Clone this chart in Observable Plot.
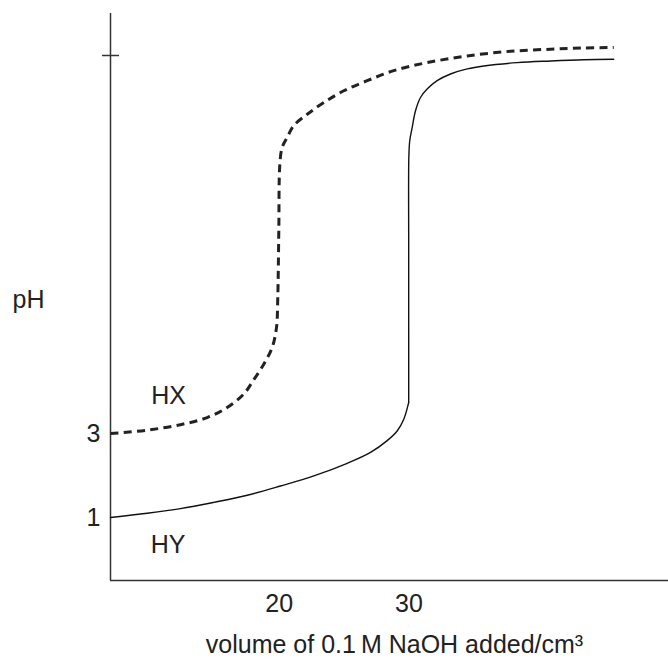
<!DOCTYPE html>
<html>
<head>
<meta charset="utf-8">
<script src="https://cdn.jsdelivr.net/npm/d3@7"></script>
<script src="https://cdn.jsdelivr.net/npm/@observablehq/plot@0.6"></script>
<style>
  html, body { margin: 0; padding: 0; background: #fff; }
  #chart { width: 668px; height: 664px; }
</style>
</head>
<body>
<div id="chart"></div>
<script>
// ---- data ----
// HY: buffer-free strong-acid-like curve, in two pieces meeting at the sharp corner
const hyLowVolume = [7.00, 9.83, 12.39, 14.96, 17.54, 20.10, 22.67, 25.24, 27.04, 28.32, 29.09, 29.60, 29.98];
const hyLowPH     = [1.00, 1.10, 1.21, 1.36, 1.53, 1.75, 1.99, 2.29, 2.55, 2.83, 3.06, 3.34, 3.74];
const hyHighVolume = [29.98, 29.98, 29.98, 29.99, 30.06, 30.25, 30.50, 30.89, 31.40, 32.17, 33.20, 34.49, 35.77, 38.34, 40.91, 43.47, 45.78];
const hyHighPH     = [3.74, 5.50, 7.50, 9.57, 9.97, 10.29, 10.68, 11.00, 11.20, 11.40, 11.56, 11.68, 11.75, 11.83, 11.87, 11.90, 11.91];

const hxVolume = [7.00, 9.83, 12.39, 14.45, 15.99, 17.27, 18.04, 18.81, 19.46, 19.79, 19.89, 19.97, 20.05, 20.23, 20.62, 21.12, 22.16, 23.44, 24.98, 26.78, 28.83, 31.40, 34.49, 37.82, 40.91, 43.47, 45.78];
const hxPH     = [3.00, 3.08, 3.21, 3.38, 3.62, 3.94, 4.28, 4.65, 5.05, 5.52, 6.24, 7.83, 9.41, 9.81, 10.05, 10.33, 10.60, 10.88, 11.16, 11.40, 11.64, 11.83, 11.99, 12.10, 12.15, 12.18, 12.19];

const xTicks = [20, 30];
const yTicks = [1, 3];
const topTick = [12];
const curveLabels = ["HX", "HY"];
const curveLabelVolume = [11.47, 11.43];
const curveLabelPH = [3.90, 0.35];
const xDomain = [7, 50];
const yDomain = [-0.5, 13];
const xLabel = "volume of 0.1\u2009M NaOH added/cm\u00B3";
const yLabel = "pH";

// ---- build tables ----
const hy = [
  ...hyLowVolume.map((v, i) => ({volume: v, pH: hyLowPH[i], part: "low"})),
  ...hyHighVolume.map((v, i) => ({volume: v, pH: hyHighPH[i], part: "high"}))
];
const hx = hxVolume.map((v, i) => ({volume: v, pH: hxPH[i]}));
const labels = curveLabels.map((t, i) => ({text: t, volume: curveLabelVolume[i], pH: curveLabelPH[i]}));

const ink = "#222";
const chart = Plot.plot({
  width: 668,
  height: 664,
  marginTop: 13,
  marginBottom: 84,
  marginLeft: 110,
  marginRight: 0,
  style: {fontFamily: "'Liberation Sans', Arial, sans-serif", fontSize: "25px", color: ink, background: "#fff"},
  x: {domain: xDomain},
  y: {domain: yDomain},
  marks: [
    Plot.axisX({ticks: xTicks, tickSize: 0, tickPadding: 14, fontSize: 25, label: null, tickFormat: d => String(d)}),
    Plot.axisY({ticks: yTicks, tickSize: 0, tickPadding: 10, fontSize: 25, label: null, tickFormat: d => String(d)}),
    Plot.ruleX([xDomain[0]], {stroke: "#333", strokeWidth: 1.5}),
    Plot.ruleY([yDomain[0]], {stroke: "#333", strokeWidth: 1.5}),
    Plot.ruleY(topTick, {x1: xDomain[0], x2: xDomain[0], insetLeft: -8, insetRight: -9, stroke: "#333", strokeWidth: 1.5}),
    Plot.line(hx, {x: "volume", y: "pH", curve: "catmull-rom", stroke: ink, strokeWidth: 3, strokeDasharray: "8,5.3", strokeLinecap: "butt"}),
    Plot.line(hy, {x: "volume", y: "pH", z: "part", curve: "catmull-rom", stroke: "#111", strokeWidth: 1.4}),
    Plot.text(labels, {x: "volume", y: "pH", text: "text", fontSize: 25, fill: ink}),
    Plot.text([yLabel], {frameAnchor: "left", textAnchor: "start", dx: -98, dy: 2.5, fontSize: 25, fill: ink}),
    Plot.text([xLabel], {frameAnchor: "bottom", lineAnchor: "bottom", dx: 5, dy: 72, fontSize: 25, fill: ink})
  ]
});
document.getElementById("chart").appendChild(chart);
</script>
</body>
</html>
